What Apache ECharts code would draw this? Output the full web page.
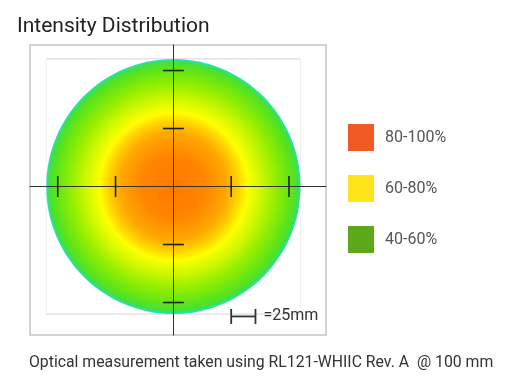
<!DOCTYPE html>
<html>
<head>
<meta charset="utf-8">
<script src="https://cdn.jsdelivr.net/npm/echarts@6/dist/echarts.min.js"></script>
<style>
html,body{margin:0;padding:0;background:#fff;}
#chart{width:508px;height:378px;}
</style>
</head>
<body>
<div id="chart"></div>
<script>
// ---- data (mm) ----
const beamCenter = [0, 0];
const beamRadiusMm = 55;
const xTickPositions = [-50, -25, 25, 50];
const yTickPositions = [-50, -25, 25, 50];
const legendLabels = ['80-100%', '60-80%', '40-60%'];
const scaleBar = [[25, -56], [35.5, -56]];
const scaleBarLabel = '=25mm';
const titleText = 'Intensity Distribution';
const captionText = 'Optical measurement taken using RL121-WHIIC Rev. A  @ 100 mm';

// ---- styles ----
const legendColors = ['#F15A22', '#FFE31B', '#5DA71B'];
const beamStops = [
  [0.00, '#FF7800'],
  [0.25, '#FF8600'],
  [0.42, '#FFA800'],
  [0.52, '#FFD800'],
  [0.58, '#FFFF00'],
  [0.68, '#D2F800'],
  [0.80, '#96EE00'],
  [0.93, '#5CE41A'],
  [0.98, '#40E040'],
  [1.00, '#28E0C8']
];

const chart = echarts.init(document.getElementById('chart'), null, {renderer: 'canvas'});

const tickData = xTickPositions.map(x => [x, 0]);
const yTickData = yTickPositions.map(y => [0, y]);

const option = {
  animation: false,
  title: [
    {text: titleText, left: 17, top: 16, padding: 0, textStyle: {fontFamily: 'Roboto', fontSize: 21, fontWeight: 'normal', color: '#222'}},
    {text: captionText, left: 29, top: 355, padding: 0, textStyle: {fontFamily: 'Roboto', fontSize: 15.8, fontWeight: 'normal', color: '#333'}}
  ],
  legend: {
    orient: 'vertical',
    left: 348, top: 124, padding: 0,
    itemWidth: 26, itemHeight: 27, itemGap: 24,
    icon: 'rect',
    selectedMode: false,
    textStyle: {fontFamily: 'Roboto', fontSize: 16, color: '#555', padding: [0, 0, 0, 6]},
    data: legendLabels
  },
  grid: {left: 30, top: 45, width: 296, height: 290, show: true, borderColor: '#c4c4c4', borderWidth: 1.5, backgroundColor: '#fff'},
  xAxis: {
    type: 'value', min: -62, max: 66, z: 10,
    axisLine: {onZero: true, lineStyle: {color: '#333', width: 1}},
    axisTick: {show: false}, axisLabel: {show: false}, splitLine: {show: false}
  },
  yAxis: {
    type: 'value', min: -64, max: 61, z: 10,
    axisLine: {onZero: true, lineStyle: {color: '#333', width: 1}},
    axisTick: {show: false}, axisLabel: {show: false}, splitLine: {show: false}
  },
  series: [
    {
      type: 'custom', z: 1, silent: true,
      data: [[beamCenter[0], beamCenter[1], beamRadiusMm]],
      renderItem: function (params, api) {
        const tl = api.coord([api.value(0) - api.value(2), api.value(1) + api.value(2)]);
        const br = api.coord([api.value(0) + api.value(2), api.value(1) - api.value(2)]);
        return {
          type: 'group',
          children: [
            {type: 'line', shape: {x1: tl[0], y1: tl[1], x2: br[0], y2: tl[1]}, style: {stroke: '#d6d6d6', lineWidth: 1}},
            {type: 'line', shape: {x1: tl[0], y1: br[1], x2: br[0], y2: br[1]}, style: {stroke: '#d6d6d6', lineWidth: 1}},
            {type: 'line', shape: {x1: tl[0], y1: tl[1], x2: tl[0], y2: br[1]}, style: {stroke: '#f0f0f0', lineWidth: 1}},
            {type: 'line', shape: {x1: br[0], y1: tl[1], x2: br[0], y2: br[1]}, style: {stroke: '#f0f0f0', lineWidth: 1}}
          ]
        };
      }
    },
    {
      type: 'custom', z: 2, silent: true,
      data: [[beamCenter[0], beamCenter[1], beamRadiusMm]],
      renderItem: function (params, api) {
        const c = api.coord([api.value(0), api.value(1)]);
        const r = api.size([api.value(2), api.value(2)]);
        return {
          type: 'ellipse',
          shape: {cx: c[0], cy: c[1], rx: r[0], ry: r[1]},
          style: {
            fill: {
              type: 'radial', x: 0.5, y: 0.5, r: 0.5,
              colorStops: beamStops.map(s => ({offset: s[0], color: s[1]}))
            }
          }
        };
      }
    },
    {
      type: 'scatter', z: 12, silent: true,
      symbol: 'rect', symbolSize: [1.6, 21],
      itemStyle: {color: '#222', opacity: 1},
      data: tickData
    },
    {
      type: 'scatter', z: 12, silent: true,
      symbol: 'rect', symbolSize: [21, 1.6],
      itemStyle: {color: '#222', opacity: 1},
      data: yTickData
    },
    {
      type: 'custom', z: 12, silent: true,
      data: [[scaleBar[0][0], scaleBar[0][1], scaleBar[1][0], scaleBar[1][1]]],
      renderItem: function (params, api) {
        const a = api.coord([api.value(0), api.value(1)]);
        const b = api.coord([api.value(2), api.value(3)]);
        return {
          type: 'group',
          children: [
            {type: 'line', shape: {x1: a[0], y1: a[1], x2: b[0], y2: b[1]}, style: {stroke: '#333', lineWidth: 1.8}},
            {type: 'line', shape: {x1: a[0], y1: a[1] - 7.5, x2: a[0], y2: a[1] + 7.5}, style: {stroke: '#333', lineWidth: 1.8}},
            {type: 'line', shape: {x1: b[0], y1: b[1] - 7.5, x2: b[0], y2: b[1] + 7.5}, style: {stroke: '#333', lineWidth: 1.8}},
            {type: 'text', x: b[0] + 8, y: b[1], style: {text: scaleBarLabel, fontFamily: 'Roboto', fontSize: 16, fill: '#333', verticalAlign: 'middle', align: 'left'}}
          ]
        };
      }
    }
  ].concat(legendLabels.map((name, i) => ({
    type: 'scatter', name: name, data: [], itemStyle: {color: legendColors[i], opacity: 1}
  })))
};

chart.setOption(option);
</script>
</body>
</html>
